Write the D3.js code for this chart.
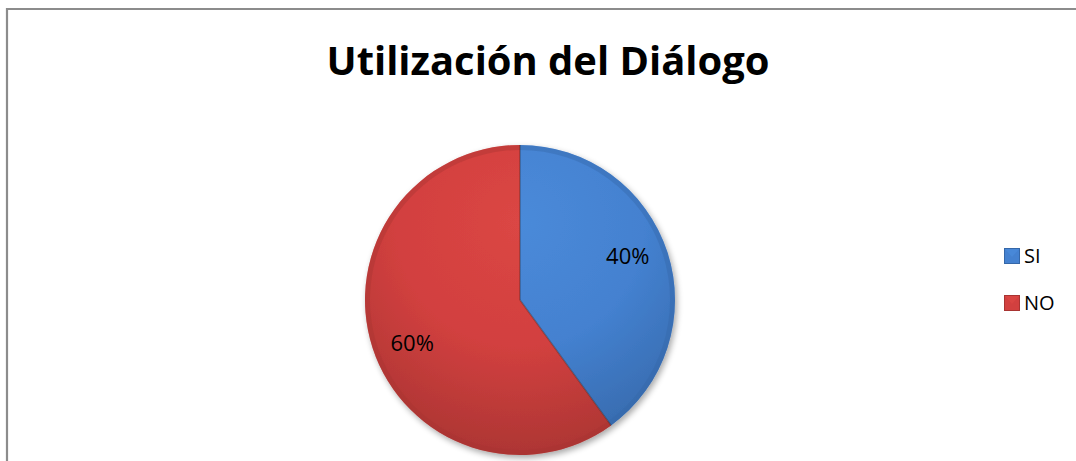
<!DOCTYPE html>
<html lang="es">
<head>
  <meta charset="UTF-8">
  <title>Utilización del Diálogo</title>
  <style>
    body { margin: 0; background: #fff; }
    svg { display: block; }
  </style>
</head>
<body>
  <svg id="chart" width="1076" height="461"></svg>

  <script src="https://d3js.org/d3.v7.min.js"></script>
  <script>
    // chart data
    const title = "Utilización del Diálogo";
    const categories = ["SI", "NO"];
    const values = [40, 60];
    const colors = ["#4481d0", "#d2403f"];
    const darkColors = ["#3567a8", "#a83432"];
    const lightColors = ["#4a8ad9", "#db4644"];

    const svg = d3.select("#chart");
    const width = 1076, height = 461;
    const cx = 520, cy = 300, radius = 155;

    // frame (only top and left edges are visible in the crop)
    svg.append("path")
      .attr("d", `M7,${height} L7,9 L${width},9`)
      .attr("fill", "none")
      .attr("stroke", "#8c8c8c")
      .attr("stroke-width", 2.2);

    // title
    const titleText = svg.append("text")
      .attr("x", 548)
      .attr("y", 75)
      .attr("text-anchor", "middle")
      .attr("font-family", "'Open Sans', 'Noto Sans', sans-serif")
      .attr("font-weight", "bold")
      .attr("font-size", 40)
      .attr("fill", "#000")
      .text(title);
    const tw = titleText.node().getComputedTextLength();
    if (tw > 0) titleText.attr("font-size", 40 * 443 / tw);

    const defs = svg.append("defs");

    categories.forEach((c, i) => {
      const g = defs.append("radialGradient")
        .attr("id", "grad" + i)
        .attr("gradientUnits", "userSpaceOnUse")
        .attr("cx", 0).attr("cy", -radius * 0.5)
        .attr("r", radius * 1.6);
      g.append("stop").attr("offset", "0%").attr("stop-color", lightColors[i]);
      g.append("stop").attr("offset", "50%").attr("stop-color", colors[i]);
      g.append("stop").attr("offset", "100%").attr("stop-color", darkColors[i]);
    });

    // soft shadow
    const shadow = defs.append("filter").attr("id", "shadow")
      .attr("x", "-20%").attr("y", "-20%").attr("width", "140%").attr("height", "140%");
    shadow.append("feGaussianBlur").attr("in", "SourceAlpha").attr("stdDeviation", 3);
    shadow.append("feOffset").attr("dx", 2).attr("dy", 3).attr("result", "b");
    shadow.append("feComponentTransfer").append("feFuncA").attr("type", "linear").attr("slope", 0.35);
    const merge = shadow.append("feMerge");
    merge.append("feMergeNode");
    merge.append("feMergeNode").attr("in", "SourceGraphic");

    const pie = d3.pie().sort(null).value(d => d);
    const arcs = pie(values);
    const arc = d3.arc().innerRadius(0).outerRadius(radius);
    const bevel = d3.arc().innerRadius(radius - 5).outerRadius(radius);

    const pieG = svg.append("g")
      .attr("transform", `translate(${cx},${cy})`);

    // slices with shadow and gradient fill
    pieG.append("g").attr("filter", "url(#shadow)")
      .selectAll("path")
      .data(arcs)
      .join("path")
      .attr("d", arc)
      .attr("fill", (d, i) => `url(#grad${i})`);

    // bevel rim
    pieG.selectAll(".rim")
      .data(arcs)
      .join("path")
      .attr("class", "rim")
      .attr("d", bevel)
      .attr("fill", (d, i) => darkColors[i])
      .attr("opacity", 0.4);

    // slice separators
    pieG.selectAll(".sep")
      .data(arcs)
      .join("line")
      .attr("class", "sep")
      .attr("x1", 0).attr("y1", 0)
      .attr("x2", d => radius * Math.sin(d.startAngle))
      .attr("y2", d => -radius * Math.cos(d.startAngle))
      .attr("stroke", "rgba(40,30,30,0.35)")
      .attr("stroke-width", 1.5);

    // percent labels (placed slightly before each slice's mid angle, as Excel does)
    const total = d3.sum(values);
    const labelR = radius * 0.75;
    const labelShift = -4 * Math.PI / 180;
    pieG.selectAll(".lbl")
      .data(arcs)
      .join("text")
      .attr("class", "lbl")
      .attr("transform", d => {
        const a = (d.startAngle + d.endAngle) / 2 + labelShift;
        return `translate(${labelR * Math.sin(a)},${-labelR * Math.cos(a)})`;
      })
      .attr("text-anchor", "middle")
      .attr("dy", "0.35em")
      .attr("font-family", "'Open Sans', 'Noto Sans', sans-serif")
      .attr("font-size", 22)
      .attr("fill", "#000")
      .text(d => Math.round(d.data / total * 100) + "%");

    // legend
    const legendY = d3.scalePoint().domain(categories).range([256, 303]);
    const legend = svg.append("g");
    categories.forEach((c, i) => {
      const y = legendY(c);
      legend.append("rect")
        .attr("x", 1004.5).attr("y", y - 7.5)
        .attr("width", 15).attr("height", 15)
        .attr("fill", colors[i])
        .attr("stroke", darkColors[i])
        .attr("stroke-width", 1);
      legend.append("path")
        .attr("d", `M1005,${y - 7} L1012,${y + 1} L1019,${y - 7} Z`)
        .attr("fill", lightColors[i])
        .attr("opacity", 0.8);
      legend.append("text")
        .attr("x", 1024)
        .attr("y", y)
        .attr("dy", "0.35em")
        .attr("font-family", "'Open Sans', 'Noto Sans', sans-serif")
        .attr("font-size", 20)
        .attr("fill", "#000")
        .text(c);
    });
  </script>
</body>
</html>
